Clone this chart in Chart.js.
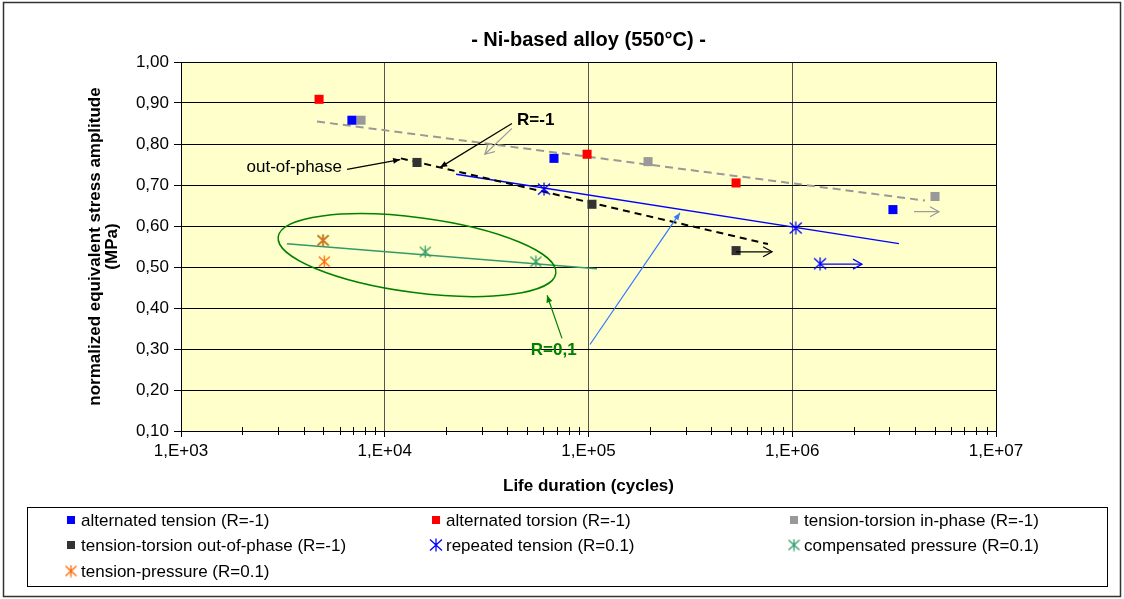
<!DOCTYPE html>
<html>
<head>
<meta charset="utf-8">
<script src="https://cdn.jsdelivr.net/npm/chart.js@4.4.0/dist/chart.umd.min.js"></script>
<style>
  html, body { margin: 0; padding: 0; background: #fff; }
</style>
</head>
<body>
<canvas id="chart" width="1124" height="599"></canvas>
<script>
// measured points (cycles, normalized stress)
const altTensionN = [6900, 67700, 3120000];
const altTensionS = [0.858, 0.765, 0.640];
const altTorsionN = [4760, 98400, 530000];
const altTorsionS = [0.909, 0.775, 0.705];
const inPhaseN = [7650, 196000, 5020000];
const inPhaseS = [0.858, 0.757, 0.672];
const outPhaseN = [14400, 104000, 530000];
const outPhaseS = [0.755, 0.653, 0.540];
const repTensionN = [60500, 1040000, 1370000];
const repTensionS = [0.690, 0.595, 0.508];
const compPressN = [4980, 15800, 55200];
const compPressS = [0.565, 0.537, 0.513];
const tensPressN = [4980, 5050];
const tensPressS = [0.565, 0.513];

// trend lines
const inPhaseFitN = [4650, 4480000];
const inPhaseFitS = [0.855, 0.662];
const outPhaseFitN = [12000, 760000];
const outPhaseFitS = [0.765, 0.556];
const repTensionFitN = [22400, 3340000];
const repTensionFitS = [0.726, 0.557];
const compFitN = [3310, 110000];
const compFitS = [0.557, 0.496];

const xTicks = [1e3, 1e4, 1e5, 1e6, 1e7];
const chartTitle = '- Ni-based alloy (550°C) -';

// annotations (data coords)
const arrows = [
    { from: [42100, 0.850], to: [18700, 0.743], color: '#000000', head: 'fill' },
    { from: [42100, 0.838], to: [31000, 0.775], color: '#999999', head: 'open' },
    { from: [6530, 0.738], to: [11900, 0.762], color: '#000000', head: 'fill' },
    { from: [74100, 0.326], to: [62600, 0.431], color: '#008000', head: 'fill' },
    { from: [101700, 0.311], to: [281000, 0.632], color: '#3377ff', head: 'fill' },
    { from: [530000, 0.537], to: [796000, 0.537], color: '#000000', head: 'open' },
    { from: [1370000, 0.507], to: [2200000, 0.507], color: '#0000ff', head: 'open' },
    { from: [3960000, 0.635], to: [5250000, 0.635], color: '#999999', head: 'open' }
];
const notes = [
    { text: 'R=-1', at: [44600, 0.858], color: '#000000', bold: true, align: 'left' },
    { text: 'out-of-phase', at: [6170, 0.743], color: '#000000', bold: false, align: 'right' },
    { text: 'R=0,1', at: [67500, 0.297], color: '#008000', bold: true, align: 'center' }
];
const ellipse = { at: [14400, 0.529], rx: 140, ry: 37.5, angle: 7.5, color: '#008000' };

const FONT = "'Liberation Sans', Arial, sans-serif";
Chart.defaults.font.family = FONT;
Chart.defaults.font.size = 17;
Chart.defaults.color = '#000';

function starImage(color, size) {
    const c = document.createElement('canvas');
    c.width = size;
    c.height = size;
    const g = c.getContext('2d');
    g.strokeStyle = color;
    g.lineWidth = 1.3;
    g.beginPath();
    g.moveTo(size / 2, 0.5); g.lineTo(size / 2, size - 0.5);
    g.moveTo(1, 1.5); g.lineTo(size - 1, size - 1.5);
    g.moveTo(size - 1, 1.5); g.lineTo(1, size - 1.5);
    g.stroke();
    return c;
}

const pts = (ns, ss) => ns.map((n, i) => ({ x: n, y: ss[i] }));

function pointSet(label, ns, ss, color, style) {
    const ds = {
        label,
        data: pts(ns, ss),
        backgroundColor: color,
        borderColor: color,
        borderWidth: 0,
        showLine: false,
        isPoint: true
    };
    if (style === 'rect') {
        ds.pointStyle = 'rect';
        ds.pointRadius = 6.4;
    } else {
        ds.pointStyle = style;
    }
    return ds;
}

function fitSet(ns, ss, color, width, dash) {
    return {
        label: '',
        data: pts(ns, ss),
        borderColor: color,
        borderWidth: width,
        borderDash: dash,
        pointRadius: 0,
        showLine: true,
        fill: false
    };
}

const tensPress = pointSet('tension-pressure (R=0.1)', tensPressN, tensPressS, '#ff6600', starImage('#ff6600', 13));
tensPress.order = -1;

const data = {
    datasets: [
        pointSet('alternated tension (R=-1)', altTensionN, altTensionS, '#0000ff', 'rect'),
        pointSet('alternated torsion (R=-1)', altTorsionN, altTorsionS, '#ff0000', 'rect'),
        pointSet('tension-torsion in-phase (R=-1)', inPhaseN, inPhaseS, '#999999', 'rect'),
        pointSet('tension-torsion out-of-phase (R=-1)', outPhaseN, outPhaseS, '#333333', 'rect'),
        pointSet('repeated tension (R=0.1)', repTensionN, repTensionS, '#0000ff', starImage('#0000ff', 14)),
        pointSet('compensated pressure (R=0.1)', compPressN, compPressS, '#339966', starImage('#339966', 13)),
        tensPress,
        fitSet(inPhaseFitN, inPhaseFitS, '#999999', 2, [8, 5]),
        fitSet(outPhaseFitN, outPhaseFitS, '#000000', 2, [7, 5]),
        fitSet(repTensionFitN, repTensionFitS, '#0000ff', 1.5, []),
        fitSet(compFitN, compFitS, '#339966', 1.5, [])
    ]
};

function drawArrow(ctx, x1, y1, x2, y2, color, head) {
    const a = Math.atan2(y2 - y1, x2 - x1);
    ctx.strokeStyle = color;
    ctx.fillStyle = color;
    ctx.lineWidth = 1.2;
    ctx.beginPath();
    ctx.moveTo(x1, y1);
    ctx.lineTo(x2, y2);
    ctx.stroke();
    if (head === 'fill') {
        const L = 7, W = 3;
        ctx.beginPath();
        ctx.moveTo(x2, y2);
        ctx.lineTo(x2 - L * Math.cos(a) + W * Math.sin(a), y2 - L * Math.sin(a) - W * Math.cos(a));
        ctx.lineTo(x2 - L * Math.cos(a) - W * Math.sin(a), y2 - L * Math.sin(a) + W * Math.cos(a));
        ctx.closePath();
        ctx.fill();
    } else {
        const L = 9, W = 5;
        ctx.beginPath();
        ctx.moveTo(x2 - L * Math.cos(a) + W * Math.sin(a), y2 - L * Math.sin(a) - W * Math.cos(a));
        ctx.lineTo(x2, y2);
        ctx.lineTo(x2 - L * Math.cos(a) - W * Math.sin(a), y2 - L * Math.sin(a) + W * Math.cos(a));
        ctx.stroke();
    }
}

const decor = {
    id: 'decor',
    beforeDraw(chart) {
        const { ctx, chartArea: a } = chart;
        ctx.save();
        ctx.fillStyle = '#ffffff';
        ctx.fillRect(0, 0, chart.width, chart.height);
        ctx.fillStyle = '#ffffcc';
        ctx.fillRect(a.left, a.top, a.right - a.left, a.bottom - a.top);
        ctx.restore();
    },
    afterDatasetsDraw(chart) {
        const { ctx, scales: { x, y } } = chart;
        const px = p => [x.getPixelForValue(p[0]), y.getPixelForValue(p[1])];
        ctx.save();
        // ellipse
        const c = px(ellipse.at);
        ctx.strokeStyle = ellipse.color;
        ctx.lineWidth = 1.5;
        ctx.beginPath();
        ctx.ellipse(c[0], c[1], ellipse.rx, ellipse.ry, ellipse.angle * Math.PI / 180, 0, Math.PI * 2);
        ctx.stroke();
        arrows.forEach(ar => {
            const p1 = px(ar.from), p2 = px(ar.to);
            drawArrow(ctx, p1[0], p1[1], p2[0], p2[1], ar.color, ar.head);
        });
        notes.forEach(n => {
            const p = px(n.at);
            ctx.font = (n.bold ? 'bold ' : '') + '17px ' + FONT;
            ctx.fillStyle = n.color;
            ctx.textAlign = n.align;
            ctx.textBaseline = 'middle';
            ctx.fillText(n.text, p[0], p[1]);
        });
        ctx.restore();
    },
    afterDraw(chart) {
        const { ctx, chartArea: a, scales: { x } } = chart;
        ctx.save();
        // title, centred over the plot area
        ctx.font = 'bold 20px ' + FONT;
        ctx.fillStyle = '#000';
        ctx.textAlign = 'center';
        ctx.textBaseline = 'middle';
        ctx.fillText(chartTitle, (a.left + a.right) / 2, 40);
        // plot frame
        ctx.strokeStyle = '#000';
        ctx.lineWidth = 1;
        ctx.strokeRect(a.left + 0.5, a.top + 0.5, a.right - a.left, a.bottom - a.top);
        // minor ticks
        ctx.beginPath();
        for (let d = 3; d < 7; d++) {
            for (let k = 2; k <= 9; k++) {
                const xp = Math.round(x.getPixelForValue(k * Math.pow(10, d))) + 0.5;
                ctx.moveTo(xp, a.bottom - 4);
                ctx.lineTo(xp, a.bottom + 4);
            }
        }
        ctx.stroke();
        // outer frame
        ctx.lineWidth = 1.5;
        ctx.strokeStyle = '#333';
        ctx.strokeRect(3.5, 2.5, chart.width - 7, chart.height - 5);
        // legend
        ctx.lineWidth = 1;
        ctx.strokeStyle = '#000';
        ctx.strokeRect(27.5, 507.5, 1080, 79);
        const colX = [71, 436, 794];
        const rowY = [520, 545, 571];
        ctx.font = '17px ' + FONT;
        ctx.textBaseline = 'middle';
        ctx.textAlign = 'left';
        chart.data.datasets.filter(ds => ds.isPoint).forEach((ds, i) => {
            const cx = colX[i % 3], cy = rowY[Math.floor(i / 3)];
            if (ds.pointStyle === 'rect') {
                ctx.fillStyle = ds.backgroundColor;
                ctx.fillRect(cx - 4, cy - 4, 8, 8);
            } else {
                const img = ds.pointStyle;
                ctx.drawImage(img, cx - img.width / 2, cy - img.height / 2);
            }
            ctx.fillStyle = '#000';
            ctx.fillText(ds.label, cx + 10, cy + 1);
        });
        ctx.restore();
    }
};

const config = {
    type: 'scatter',
    data,
    options: {
        responsive: false,
        animation: false,
        layout: {
            padding: { left: 10, right: 128, top: 62, bottom: 98 }
        },
        scales: {
            x: {
                type: 'logarithmic',
                min: 1e3,
                max: 1e7,
                afterBuildTicks: s => { s.ticks = xTicks.map(v => ({ value: v })); },
                afterFit: s => { s.height = 70; },
                ticks: {
                    callback: v => '1,E+' + String(Math.round(Math.log10(v))).padStart(2, '0'),
                    padding: 4,
                    maxRotation: 0,
                    autoSkip: false,
                    color: '#000',
                    font: { size: 17 }
                },
                grid: { color: '#555555', lineWidth: 1, tickLength: 6, tickColor: '#000' },
                border: { color: '#000' },
                title: {
                    display: true,
                    text: 'Life duration (cycles)',
                    font: { size: 17, weight: 'bold', lineHeight: 1 },
                    padding: { top: 0, bottom: 6.5 }
                }
            },
            y: {
                min: 0.1,
                max: 1.0,
                afterFit: s => { s.width = 171; },
                ticks: {
                    stepSize: 0.1,
                    callback: v => v.toFixed(2).replace('.', ','),
                    padding: 5,
                    color: '#000',
                    font: { size: 17 }
                },
                grid: { color: '#000', lineWidth: 1, tickLength: 7, tickColor: '#000' },
                border: { color: '#000' },
                title: {
                    display: true,
                    text: ['normalized equivalent stress amplitude', '(MPa)'],
                    font: { size: 17, weight: 'bold', lineHeight: 1 },
                    padding: { top: 76.5, bottom: 0 }
                }
            }
        },
        plugins: {
            legend: { display: false },
            tooltip: { enabled: false },
            title: { display: false }
        }
    },
    plugins: [decor]
};

const myChart = new Chart(document.getElementById('chart'), config);
</script>
</body>
</html>
